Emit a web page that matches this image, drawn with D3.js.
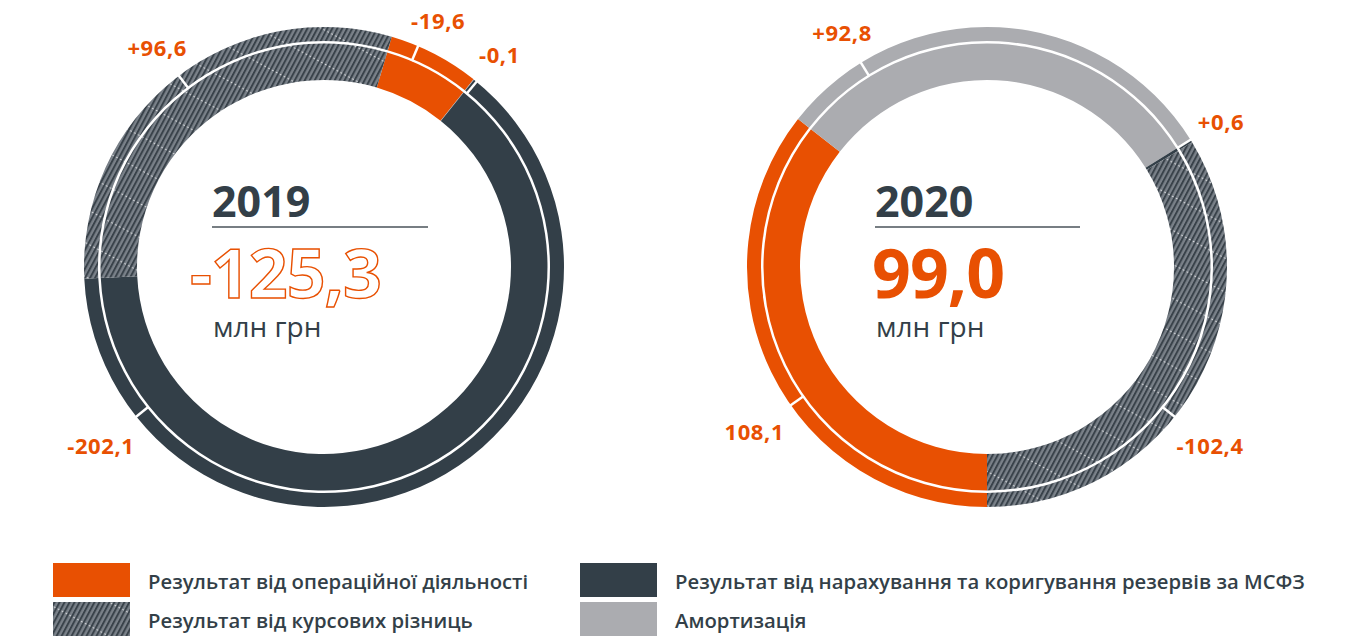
<!DOCTYPE html>
<html>
<head>
<meta charset="utf-8">
<script src="https://cdn.jsdelivr.net/npm/d3@7/dist/d3.min.js"></script>
<style>
  html, body { margin: 0; padding: 0; background: #ffffff; }
  svg { display: block; }
</style>
</head>
<body>
<svg id="chart" width="1350" height="636"></svg>
<script>
// ---------------- DATA ----------------
const categories = [
  "Результат від операційної діяльності",
  "Амортизація",
  "Результат від нарахування та коригування резервів за МСФЗ",
  "Результат від курсових різниць"
];
const categoryKeys = ["ops", "amort", "reserves", "fx"];
const years = ["2019", "2020"];
const totalLabels = ["-125,3", "99,0"];
const values2019 = [-19.6, -0.1, -202.1, 96.6];
const values2020 = [108.1, 92.8, 0.6, -102.4];
const valueLabels2019 = ["-19,6", "-0,1", "-202,1", "+96,6"];
const valueLabels2020 = ["108,1", "+92,8", "+0,6", "-102,4"];
// label markers, in cumulative value units along each ring
const markers2019 = [5.9, 20.4, 190.2, 271.0];
const markers2020 = [46.3, 125.2, 200.9, 260.5];
const legendOrder = ["ops", "reserves", "fx", "amort"];

// ---------------- STYLE ----------------
const colors = { ops: "#e85002", amort: "#abacb0", reserves: "#333f48", fx: "url(#hatch)" };
const textDark = "#333f48";
const orange = "#e85002";

const svg = d3.select("#chart");
const defs = svg.append("defs");
const pat = defs.append("pattern")
  .attr("id", "hatch").attr("patternUnits", "userSpaceOnUse")
  .attr("width", 4.4).attr("height", 30)
  .attr("patternTransform", "rotate(28)");
pat.append("rect").attr("width", 4.4).attr("height", 30).attr("fill", "#7a8189");
pat.append("rect").attr("x", 0).attr("width", 2).attr("height", 30).attr("fill", "#39424a");
pat.append("rect").attr("x", 2.4).attr("y", 0).attr("width", 1.8).attr("height", 0.9).attr("fill", "#ffffff").attr("opacity", 0.8);

const charts = [
  { year: years[0], total: totalLabels[0], values: values2019, labels: valueLabels2019, markers: markers2019,
    cx: 324, cy: 267, start: 16.4, negative: true, lineEnd: 104 },
  { year: years[1], total: totalLabels[1], values: values2020, labels: valueLabels2020, markers: markers2020,
    cx: 987, cy: 267, start: 180, negative: false, lineEnd: 93 }
];

const rInner0 = 187, rInner1 = 223.5, rOuter0 = 226, rOuter1 = 240;
const toRad = d => d * Math.PI / 180;

charts.forEach(c => {
  const g = svg.append("g").attr("transform", `translate(${c.cx},${c.cy})`);
  const data = c.values.map((v, i) => ({ key: categoryKeys[i], value: v, label: c.labels[i] }));
  const s = toRad(c.start);
  const pie = d3.pie().value(d => Math.abs(d.value)).sort(null).startAngle(s).endAngle(s + 2 * Math.PI);
  const arcs = pie(data);
  const sumAbs = d3.sum(data, d => Math.abs(d.value));
  const angle = d3.scaleLinear().domain([0, sumAbs]).range([s, s + 2 * Math.PI]);

  const arcInner = d3.arc().innerRadius(rInner0).outerRadius(rInner1);
  const arcOuter = d3.arc().innerRadius(rOuter0).outerRadius(rOuter1);

  g.selectAll("path.inner").data(arcs).join("path")
    .attr("class", "inner").attr("d", arcInner).attr("fill", d => colors[d.data.key]);
  g.selectAll("path.outer").data(arcs).join("path")
    .attr("class", "outer").attr("d", arcOuter).attr("fill", d => colors[d.data.key]);

  // marker ticks on outer ring + value labels
  c.markers.forEach((m, i) => {
    const a = angle(m);
    g.append("line")
      .attr("x1", Math.sin(a) * (rOuter0 - 2)).attr("y1", -Math.cos(a) * (rOuter0 - 2))
      .attr("x2", Math.sin(a) * (rOuter1 + 1)).attr("y2", -Math.cos(a) * (rOuter1 + 1))
      .attr("stroke", "#ffffff").attr("stroke-width", 2.5);
    const lr = 276 + 15 * Math.max(0, -Math.cos(a));
    const ly = Math.max(-c.cy + 20, -Math.cos(a) * lr);
    g.append("text")
      .attr("x", Math.sin(a) * lr + (ly > -Math.cos(a) * lr ? 6 : 0)).attr("y", ly)
      .attr("text-anchor", "middle").attr("dominant-baseline", "central")
      .attr("font-family", "Open Sans").attr("font-weight", 700).attr("font-size", 22)
      .attr("letter-spacing", 0.6)
      .attr("fill", orange).text(data[i].label);
  });

  // centre texts
  const left = -112;
  g.append("text").attr("x", left).attr("y", -50)
    .attr("font-family", "Open Sans").attr("font-weight", 700).attr("font-size", 43)
    .attr("fill", textDark).text(c.year);
  g.append("line").attr("x1", left).attr("x2", c.lineEnd).attr("y1", -40).attr("y2", -40)
    .attr("stroke", "#4a535a").attr("stroke-width", 1.5);
  const tv = g.append("text").attr("x", left - (c.negative ? 22 : 3)).attr("y", 31)
    .attr("font-family", "Open Sans").attr("font-weight", 700).attr("font-size", 68)
    .attr("letter-spacing", -1).text(c.total);
  if (c.negative) tv.attr("fill", "#ffffff").attr("stroke", orange).attr("stroke-width", 1.4);
  else tv.attr("fill", orange);
  g.append("text").attr("x", left + 1).attr("y", 70)
    .attr("font-family", "Open Sans").attr("font-weight", 400).attr("font-size", 28)
    .attr("fill", textDark).text("млн грн");
});

// legend
const legX = [53, 580], legY = [563, 602];
legendOrder.forEach((k, i) => {
  const col = i % 2, row = Math.floor(i / 2);
  const x = legX[col], y = legY[row];
  svg.append("rect").attr("x", x).attr("y", y).attr("width", 77).attr("height", 34).attr("fill", colors[k]);
  svg.append("text").attr("x", x + 95).attr("y", y + 26)
    .attr("font-family", "Open Sans").attr("font-weight", 600).attr("font-size", 20.3)
    .attr("fill", textDark).text(categories[categoryKeys.indexOf(k)]);
});
</script>
</body>
</html>
